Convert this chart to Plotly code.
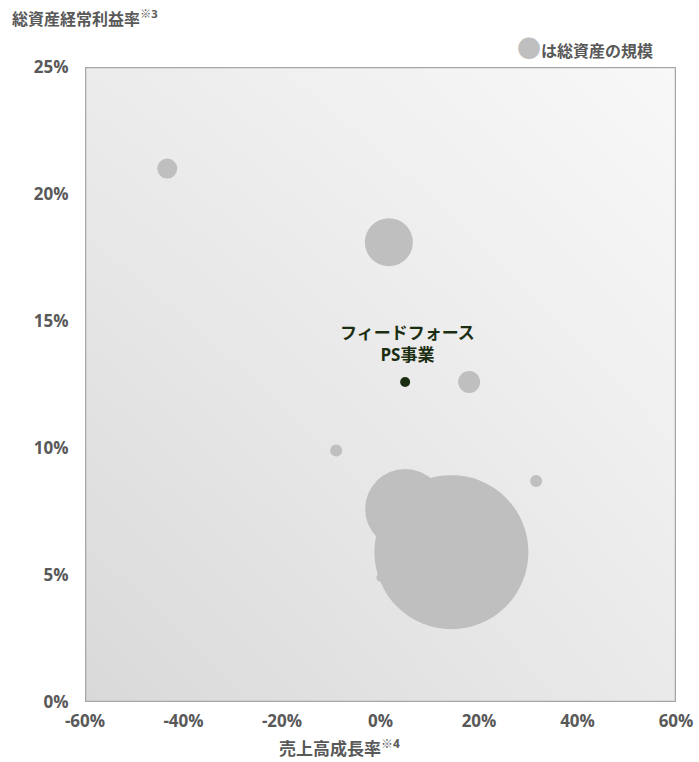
import plotly.graph_objects as go

# 売上高成長率 (%), 総資産経常利益率 (%), relative total-asset size
peer_growth = [-43.3, 1.7, 18.0, -9.0, 31.6, 5.0, 14.4, 0.0]
peer_roa = [21.0, 18.1, 12.6, 9.9, 8.7, 7.6, 5.9, 4.9]
peer_assets = [100, 576, 121, 36, 36, 1600, 5929, 16]

ff_growth = [5.0]
ff_roa = [12.6]
ff_label = "フィードフォース<br>PS事業"

x_ticks = [-60, -40, -20, 0, 20, 40, 60]
y_ticks = [0, 5, 10, 15, 20, 25]

FONT = "Open Sans, Noto Sans CJK JP"
GREY_TXT = "#595959"
BUBBLE = "#bfbfbf"
DARK = "#1c2e12"

fig = go.Figure()

# diagonal grey gradient as plot background
fig.add_trace(go.Heatmap(
    x=[-60, 60], y=[0, 25], z=[[0.0, 0.55], [0.6, 1.0]],
    zsmooth="best", showscale=False, hoverinfo="skip",
    colorscale=[[0, "#d9d9d9"], [1, "#f8f8f8"]],
))

fig.add_trace(go.Scatter(
    x=peer_growth, y=peer_roa, mode="markers",
    marker=dict(size=peer_assets, sizemode="area", sizeref=0.5,
                color=BUBBLE, line=dict(width=0), opacity=1),
    showlegend=False, hoverinfo="x+y",
))

fig.add_trace(go.Scatter(
    x=ff_growth, y=ff_roa, mode="markers",
    marker=dict(size=10, color=DARK),
    showlegend=False,
))

fig.add_annotation(
    x=ff_growth[0], y=ff_roa[0], text=ff_label, showarrow=False,
    yshift=38, xshift=2, font=dict(family=FONT, size=17, color=DARK, weight="bold"),
)

# zero line
fig.add_shape(type="line", x0=0, x1=0, y0=0, y1=25, xref="x", yref="y",
              line=dict(color="#bfbfbf", width=2), layer="below")
# frame
fig.add_shape(type="rect", x0=-60, x1=60, y0=0, y1=25, xref="x", yref="y",
              line=dict(color="#a6a6a6", width=2.5))

title_font = dict(family=FONT, size=16, color=GREY_TXT, weight="bold")

fig.add_annotation(
    xref="paper", yref="paper", x=-0.127, y=1.077, xanchor="left", yanchor="middle",
    text="総資産経常利益率<sup>※3</sup>", showarrow=False, font=title_font,
)
fig.add_annotation(
    xref="paper", yref="paper", x=0.43, y=-0.072, xanchor="center", yanchor="middle",
    text="売上高成長率<sup>※4</sup>", showarrow=False,
    font=dict(family=FONT, size=17, color=GREY_TXT, weight="bold"),
)
fig.add_annotation(
    xref="paper", yref="paper", x=0.964, y=1.031, xanchor="right", yanchor="middle",
    text="<span style='color:#bfbfbf;font-size:24px'>●</span>は総資産の規模", showarrow=False,
    font=title_font,
)

tick_font = dict(family=FONT, size=17, color=GREY_TXT, weight="bold")

fig.update_layout(
    width=699, height=762,
    margin=dict(l=85, r=23, t=67, b=60, autoexpand=False),
    paper_bgcolor="white", plot_bgcolor="white",
    xaxis=dict(range=[-60, 60], tickvals=x_ticks, ticktext=[f"{v}%" for v in x_ticks],
               showgrid=False, zeroline=False, showline=False, tickfont=tick_font,
               ticklabeloverflow="allow", automargin=False,
               ticks="outside", ticklen=4, tickcolor="rgba(0,0,0,0)", fixedrange=True),
    yaxis=dict(range=[0, 25], tickvals=y_ticks, ticktext=[f"{v}%" for v in y_ticks],
               showgrid=False, zeroline=False, showline=False, tickfont=tick_font,
               automargin=False,
               ticks="outside", ticklen=12, tickcolor="rgba(0,0,0,0)", fixedrange=True),
)

# drop the default page margin so the figure sits at the window's corner
fig.write_html("out.html", config={"displayModeBar": False},
               post_script="document.body.style.margin='0';")
